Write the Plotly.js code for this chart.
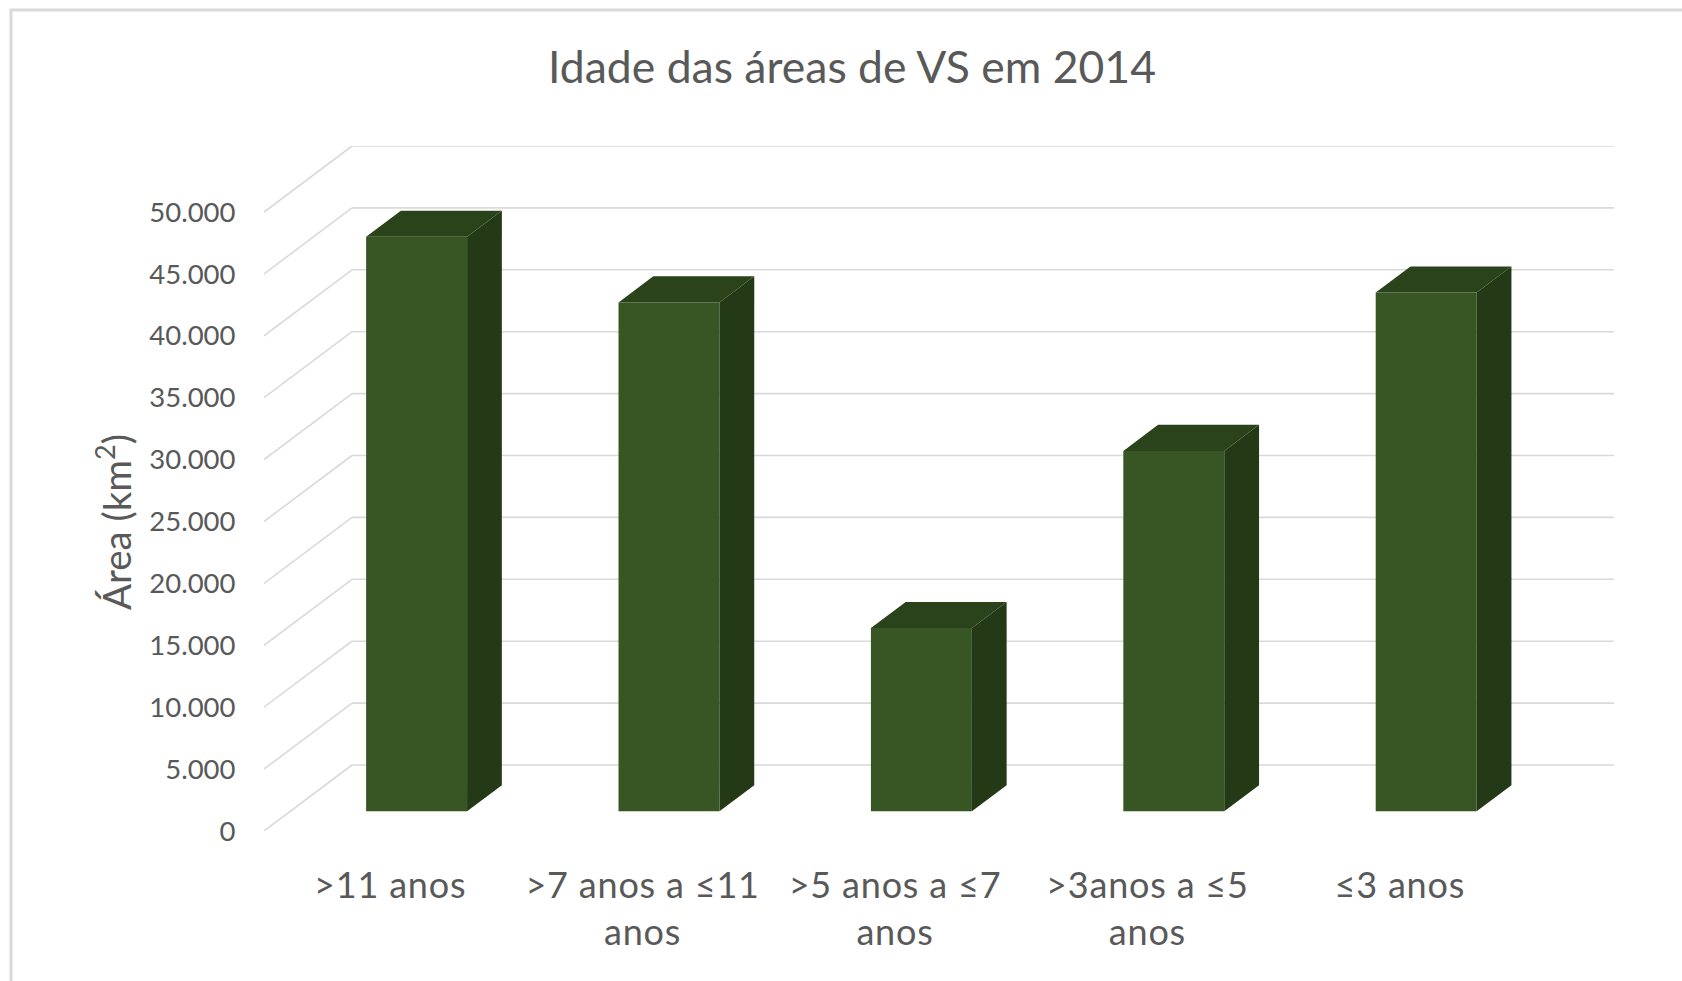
<!DOCTYPE html>
<html>
<head>
<meta charset="utf-8">
<script src="https://cdn.plot.ly/plotly-3.0.1.min.js"></script>
<style>
  html, body { margin: 0; padding: 0; background: #ffffff; overflow: hidden; }
  #chart { width: 1682px; height: 981px; }
  #chart .xtick text { letter-spacing: 0.8px; }
</style>
</head>
<body>
<div id="chart"></div>
<script>
// ---- data ----
const categories = [">11 anos", ">7 anos a ≤11 anos", ">5 anos a ≤7 anos", ">3anos a ≤5 anos", "≤3 anos"];
const tickLabels = [">11 anos", ">7 anos a ≤11<br>anos", ">5 anos a ≤7<br>anos", ">3anos a ≤5<br>anos", "≤3 anos"];
const areaKm2 = [46400, 41100, 14800, 29100, 41900];
const yTicks = [0, 5000, 10000, 15000, 20000, 25000, 30000, 35000, 40000, 45000, 50000];
const chartTitle = "Idade das áreas de VS em 2014";
const yTitle = "Área (km<sup>2</sup>)";

// ---- pseudo-3D geometry (in axis units) ----
const DX = 0.3487;      // depth offset along x (category units)
const DY = 5331;        // depth offset along y (value units)
const FA = 0.30, FB = 0.695;   // bar front / back depth fractions
const HW = 0.20;        // bar half width
const yMax = yTicks[yTicks.length - 1];

const frontColor = "#375623", sideColor = "#243a17", topColor = "#2b431b";
const gridColor = "#d9d9d9";
const textColor = "#595959";

const traces = [];
// bars: side and top faces
areaKm2.forEach((h, i) => {
  const xl = i - HW, xr = i + HW;
  traces.push({type: "scatter", mode: "lines", fill: "toself", fillcolor: sideColor, line: {width: 0, color: sideColor},
    x: [xr + FA * DX, xr + FB * DX, xr + FB * DX, xr + FA * DX],
    y: [FA * DY, FB * DY, h + FB * DY, h + FA * DY], hoverinfo: "skip", showlegend: false});
  traces.push({type: "scatter", mode: "lines", fill: "toself", fillcolor: topColor, line: {width: 0, color: topColor},
    x: [xl + FA * DX, xr + FA * DX, xr + FB * DX, xl + FB * DX],
    y: [h + FA * DY, h + FA * DY, h + FB * DY, h + FB * DY], hoverinfo: "skip", showlegend: false});
});
// bars: front faces
traces.push({type: "bar", x: areaKm2.map((h, i) => i + FA * DX), y: areaKm2, base: areaKm2.map(() => FA * DY),
  width: 2 * HW, marker: {color: frontColor, line: {width: 0}}, hoverinfo: "skip", showlegend: false});

// gridlines of the back wall and side wall (drawn below the bars)
const shapes = [];
yTicks.forEach(v => {
  shapes.push({type: "line", xref: "x", yref: "y", layer: "below",
    x0: -0.5 + DX, x1: categories.length - 0.5 + DX, y0: v + DY, y1: v + DY,
    line: {color: gridColor, width: 1.6}});
  shapes.push({type: "line", xref: "x", yref: "y", layer: "below",
    x0: -0.5, x1: -0.5 + DX, y0: v, y1: v + DY,
    line: {color: gridColor, width: 1.6}});
});

const W = 1682, H = 981;
const mL = 264, mR = 68, mT = 146, mB = 150;

// outer chart border
shapes.push({type: "rect", xref: "paper", yref: "paper", layer: "below",
  x0: (11 - mL) / (W - mL - mR), x1: (W + 20 - mL) / (W - mL - mR),
  y0: (H - mB - (H + 20)) / (H - mT - mB), y1: (H - mB - 10) / (H - mT - mB),
  line: {color: "#d9d9d9", width: 3}, fillcolor: "rgba(0,0,0,0)"});

const layout = {
  width: W, height: H,
  margin: {l: mL, r: mR, t: mT, b: mB, pad: 0},
  paper_bgcolor: "#ffffff", plot_bgcolor: "rgba(0,0,0,0)",
  separators: ",.",
  font: {family: "Lato, 'Open Sans', sans-serif", color: textColor},
  title: {text: chartTitle, font: {size: 44.5, color: textColor, family: "Lato, sans-serif"},
          x: 852 / W, xref: "container", xanchor: "center", y: 1 - 67 / H, yref: "container", yanchor: "middle"},
  xaxis: {range: [-0.5, categories.length - 0.5 + DX], autorange: false, tickvals: categories.map((c, i) => i),
          ticktext: tickLabels, showgrid: false, zeroline: false, showline: false,
          ticks: "outside", ticklen: 23, tickcolor: "rgba(0,0,0,0)", automargin: false,
          tickfont: {size: 36, color: textColor, family: "Lato, sans-serif"}, fixedrange: true},
  yaxis: {range: [0, yMax + DY], autorange: false, tickvals: yTicks, tickformat: ",d",
          showgrid: false, zeroline: false, showline: false,
          ticks: "outside", ticklen: 22, tickcolor: "rgba(0,0,0,0)", automargin: false,
          tickfont: {size: 27.5, color: textColor, family: "Lato, sans-serif"}, fixedrange: true},
  annotations: [{text: yTitle, textangle: -90, xref: "paper", yref: "paper",
                 x: (113 - mL) / (W - mL - mR), y: (H - mB - 522) / (H - mT - mB),
                 xanchor: "center", yanchor: "middle", showarrow: false,
                 font: {size: 38.5, color: textColor, family: "Lato, sans-serif"}}],
  shapes: shapes,
  hovermode: false
};

Plotly.newPlot("chart", traces, layout, {staticPlot: true, displayModeBar: false});
</script>
</body>
</html>
